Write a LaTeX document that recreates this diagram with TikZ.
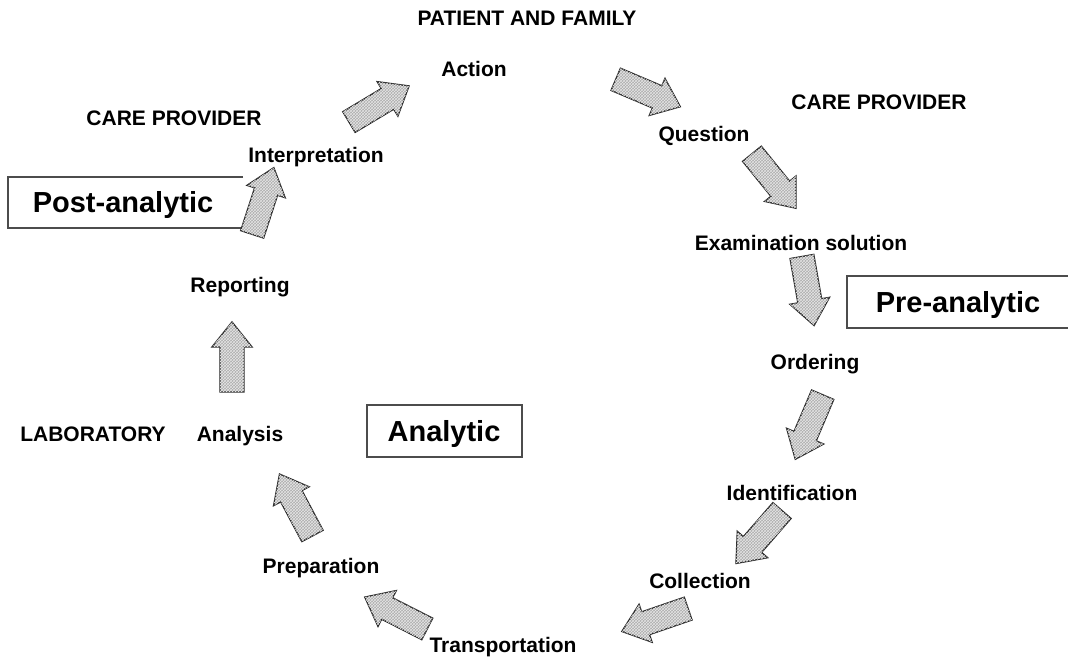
\documentclass[tikz,border=0pt]{standalone}
\usepackage{fontspec}
\setmainfont{Liberation Sans}
\usetikzlibrary{patterns}
\begin{document}
\begin{tikzpicture}[x=1pt,y=1pt,
  lbl/.style={font=\fontsize{21}{25}\selectfont\bfseries, inner sep=0pt, anchor=base},
  phase/.style={font=\fontsize{29}{34}\selectfont\bfseries, inner sep=0pt, anchor=base},
  boxline/.style={draw=black!70, line width=1.3pt},
  arrowbody/.style={draw=black!85, line width=1.4pt, line join=miter, fill=gray!65,
    postaction={pattern=crosshatch, pattern color=white!80!gray}},
]
\useasboundingbox (0,0) rectangle (1068,-657);

% block arrow: name, centre x, centre y, direction angle
\newcommand\blockarrow[4]{%
  \begin{scope}[shift={(#2,#3)}, rotate=#4]
    \draw[arrowbody] (-35,-12) -- (10,-12) -- (10,-20) -- (35,0)
      -- (10,20) -- (10,12) -- (-35,12) -- cycle;
    \coordinate (#1) at (0,0);
  \end{scope}}

% stage labels around the cycle
\node[lbl] (top)    at (527,-25)  {PATIENT AND FAMILY};
\node[lbl] (action) at (474,-76)  {Action};
\node[lbl] (cpr)    at (879,-109) {CARE PROVIDER};
\node[lbl] (cpl)    at (174,-125) {CARE PROVIDER};
\node[lbl] (interp) at (316,-162) {Interpretation};
\node[lbl] (quest)  at (704,-141) {Question};
\node[lbl] (exam)   at (801,-250) {Examination solution};
\node[lbl] (order)  at (815,-369) {Ordering};
\node[lbl] (ident)  at (792,-500) {Identification};
\node[lbl] (coll)   at (700,-588) {Collection};
\node[lbl] (trans)  at (503,-652) {Transportation};
\node[lbl] (prep)   at (321,-573) {Preparation};
\node[lbl] (anal)   at (240,-441) {Analysis};
\node[lbl] (lab)    at (93,-441)  {LABORATORY};
\node[lbl] (report) at (240,-292) {Reporting};

% phase boxes
\draw[boxline] (243,-177) -- (8,-177) -- (8,-228) -- (243,-228);
\node[phase] (post) at (123,-212) {Post-analytic};
\draw[boxline] (1068,-276) -- (847,-276) -- (847,-328) -- (1068,-328);
\node[phase] (pre) at (958,-312) {Pre-analytic};
\draw[boxline] (367,-405) rectangle (522,-457);
\node[phase] (analytic) at (444,-441) {Analytic};

% arrows of the cycle
\blockarrow{a1}{379}{-104}{31}
\blockarrow{a2}{648}{-93}{-23}
\blockarrow{a3}{774}{-181}{-51}
\blockarrow{a4}{808}{-291}{-80}
\blockarrow{a5}{809}{-427}{-113}
\blockarrow{a6}{759}{-537}{-131}
\blockarrow{a7}{655}{-620}{-161}
\blockarrow{a8}{396}{-613}{153}
\blockarrow{a9}{296}{-505}{118}
\blockarrow{a10}{232}{-357}{90}
\blockarrow{a11}{263}{-201}{72}
\end{tikzpicture}
\end{document}
